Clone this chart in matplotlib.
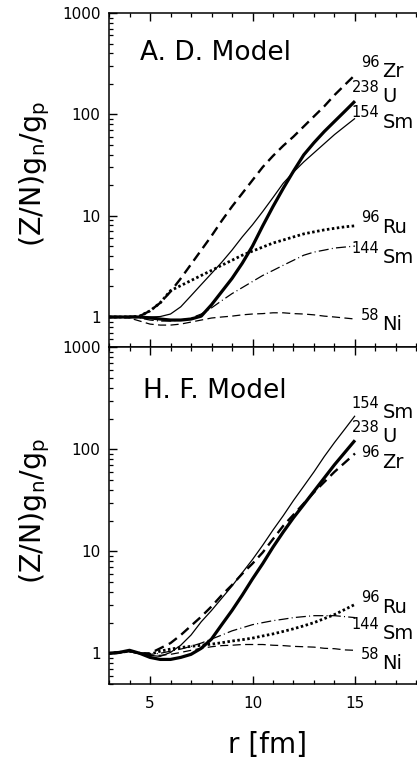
import numpy as np
import matplotlib
matplotlib.use("Agg")
import matplotlib.pyplot as plt
from matplotlib.ticker import FixedLocator, MultipleLocator, NullFormatter

# radius grid [fm]
R = [3.0, 3.5, 4.0, 4.5, 5.0, 5.5, 6.0, 6.5, 7.0, 7.5, 8.0, 8.5, 9.0,
     9.5, 10.0, 10.5, 11.0, 11.5, 12.0, 12.5, 13.0, 13.5, 14.0, 14.5, 15.0]

# A. D. model, (Z/N) g_n / g_p
AD_ZR96 = [1.0, 1.0, 1.0, 1.02, 1.15, 1.38, 1.78, 2.40, 3.31, 4.57, 6.31, 8.91, 12.3,
           16.6, 22.4, 30.2, 38.9, 49.0, 60.3, 75.9, 95.5, 120, 155, 195, 245]
AD_U238 = [1.0, 1.0, 1.0, 1.0, 0.98, 0.955, 0.933, 0.933, 0.955, 1.02, 1.32, 1.78, 2.40,
           3.39, 5.01, 7.94, 12.3, 18.6, 27.5, 39.8, 52.5, 67.6, 85.1, 107, 135]
AD_SM154 = [1.0, 1.0, 1.0, 1.0, 1.0, 1.01, 1.07, 1.26, 1.62, 2.09, 2.69, 3.47, 4.57,
            6.17, 8.13, 11.0, 15.1, 20.9, 26.9, 33.9, 41.7, 51.3, 63.1, 75.9, 91.2]
AD_RU96 = [1.0, 1.0, 1.0, 1.02, 1.15, 1.38, 1.82, 2.04, 2.29, 2.57, 2.88, 3.24, 3.63,
           4.07, 4.47, 4.90, 5.37, 5.75, 6.17, 6.61, 6.92, 7.24, 7.50, 7.76, 7.94]
AD_SM144 = [1.0, 1.0, 1.0, 0.977, 0.933, 0.912, 0.912, 0.933, 0.977, 1.07, 1.23, 1.45, 1.70,
            1.95, 2.24, 2.57, 2.88, 3.24, 3.63, 4.07, 4.37, 4.57, 4.79, 4.90, 5.01]
AD_NI58 = [1.0, 1.0, 0.977, 0.912, 0.851, 0.832, 0.832, 0.851, 0.891, 0.933, 0.977, 1.0, 1.02,
           1.05, 1.07, 1.08, 1.10, 1.10, 1.08, 1.07, 1.05, 1.02, 1.0, 0.977, 0.955]

# H. F. model
HF_SM154 = [1.0, 1.02, 1.05, 1.0, 0.955, 0.933, 1.02, 1.20, 1.51, 2.04, 2.63, 3.47, 4.57,
            6.17, 8.32, 11.5, 16.2, 22.4, 31.6, 43.6, 60.3, 85.1, 117, 158, 214]
HF_U238 = [1.0, 1.02, 1.07, 1.0, 0.912, 0.871, 0.871, 0.912, 0.977, 1.12, 1.38, 1.91, 2.63,
           3.72, 5.37, 7.59, 11.0, 15.5, 21.4, 28.8, 38.9, 52.5, 70.8, 93.3, 123]
HF_ZR96 = [1.0, 1.02, 1.05, 1.0, 1.0, 1.12, 1.26, 1.51, 1.86, 2.29, 2.88, 3.72, 4.68,
           6.03, 7.59, 9.77, 13.2, 17.8, 22.9, 29.5, 38.0, 47.9, 60.3, 74.1, 91.2]
HF_RU96 = [1.0, 1.02, 1.05, 1.0, 0.977, 1.05, 1.10, 1.14, 1.17, 1.20, 1.23, 1.27, 1.32,
           1.36, 1.41, 1.48, 1.55, 1.64, 1.74, 1.86, 2.0, 2.19, 2.40, 2.69, 3.02]
HF_SM144 = [1.0, 1.02, 1.05, 1.0, 0.977, 1.0, 1.05, 1.10, 1.17, 1.26, 1.38, 1.51, 1.66,
            1.78, 1.91, 2.0, 2.09, 2.16, 2.24, 2.29, 2.34, 2.34, 2.34, 2.29, 2.24]
HF_NI58 = [1.0, 1.02, 1.05, 1.0, 0.955, 0.955, 0.977, 1.02, 1.07, 1.12, 1.16, 1.19, 1.20,
           1.22, 1.22, 1.22, 1.20, 1.19, 1.17, 1.16, 1.15, 1.12, 1.11, 1.08, 1.07]

NUCLEI = ["Zr", "U", "Sm", "Ru", "Sm", "Ni"]
MASSES = ["96", "238", "154", "96", "144", "58"]
Y_TICKS = [1, 10, 100, 1000]

# line style per nucleus (same order as NUCLEI)
STYLES = [
    dict(lw=1.7, ls=(0, (4.2, 2.4))),             # 96Zr long dash
    dict(lw=2.3, ls="-"),                          # 238U thick
    dict(lw=0.9, ls="-"),                          # 154Sm thin
    dict(lw=2.0, ls=(0, (0.9, 0.9))),              # 96Ru dotted
    dict(lw=0.9, ls=(0, (8, 2.6, 0.8, 2.6))),      # 144Sm dash-dot
    dict(lw=0.9, ls=(0, (6.5, 3.5))),              # 58Ni dashed
]

plt.rcParams["font.family"] = ["DejaVu Sans"]

fig = plt.figure(figsize=(4.17, 7.61), dpi=100)

# axes geometry in pixels (figure is 417 x 761)
W, H = 417.0, 761.0
left = 109 / W
width = 16 * 20.5 / W   # x from 3 to 19, runs past the right edge
ax_top = fig.add_axes([left, 1 - 347.5 / H, width, 334.5 / H])
ax_bot = fig.add_axes([left, 1 - 684 / H, width, 336.5 / H])


def draw_panel(ax, series, label_y, title, title_y, show_xlabels):
    """Draws one panel with six curves and the end labels"""
    for vals, st in zip(series, STYLES):
        ax.plot(R, vals, color="black", lw=st["lw"], linestyle=st["ls"],
                solid_capstyle="butt", dash_capstyle="butt")

    ax.set_yscale("log")
    ax.set_xlim(3, 19)
    ax.set_ylim(0.5, 1000)

    # end labels: mass number raised, element name after it
    for name, mass, y in zip(NUCLEI, MASSES, label_y):
        ax.text(16.33, y, name, fontsize=14, ha="left", va="baseline")
        ax.annotate(mass, xy=(16.2, y), xytext=(0, 7.5), textcoords="offset points",
                    fontsize=10.5, ha="right", va="baseline", annotation_clip=False)

    ax.text(title[1], title_y, title[0], transform=ax.transAxes,
            fontsize=19, ha="left", va="baseline")

    ax.yaxis.set_major_locator(FixedLocator(Y_TICKS))
    ax.set_yticklabels([str(t) for t in Y_TICKS])
    ax.yaxis.set_minor_formatter(NullFormatter())
    ax.xaxis.set_major_locator(FixedLocator([5, 10, 15]))
    ax.xaxis.set_minor_locator(MultipleLocator(1))

    ax.tick_params(axis="x", which="both", direction="in", top=True, bottom=True,
                   labelsize=11, pad=9, labelbottom=show_xlabels)
    ax.tick_params(axis="x", which="major", length=6, width=1.0)
    ax.tick_params(axis="x", which="minor", length=3, width=0.9)
    ax.tick_params(axis="y", which="both", direction="in", right=False,
                   labelsize=11, pad=6)
    ax.tick_params(axis="y", which="major", length=6, width=1.0)
    ax.tick_params(axis="y", which="minor", length=3, width=0.9)
    ax.spines["right"].set_visible(False)
    for s in ("left", "top", "bottom"):
        ax.spines[s].set_linewidth(1.1)


# label baselines in data units
AD_LABEL_Y = [234, 132, 73.5, 6.76, 3.41, 0.745]
HF_LABEL_Y = [66, 117, 203, 2.51, 1.37, 0.70]

draw_panel(ax_top, [AD_ZR96, AD_U238, AD_SM154, AD_RU96, AD_SM144, AD_NI58],
           AD_LABEL_Y, ("A. D. Model", 0.095), 0.858, False)
draw_panel(ax_bot, [HF_ZR96, HF_U238, HF_SM154, HF_RU96, HF_SM144, HF_NI58],
           HF_LABEL_Y, ("H. F. Model", 0.104), 0.849, True)

ylab = r"(Z/N)g$_\mathrm{n}$/g$_\mathrm{p}$"
fig.text(35 / W, 1 - 174 / H, ylab, rotation=90, fontsize=20.5, ha="center", va="center")
fig.text(35 / W, 1 - 511 / H, ylab, rotation=90, fontsize=20.5, ha="center", va="center")
fig.text(267 / W, 1 - 745 / H, "r [fm]", fontsize=20, ha="center", va="center")

fig.savefig("out.png", dpi=100)
